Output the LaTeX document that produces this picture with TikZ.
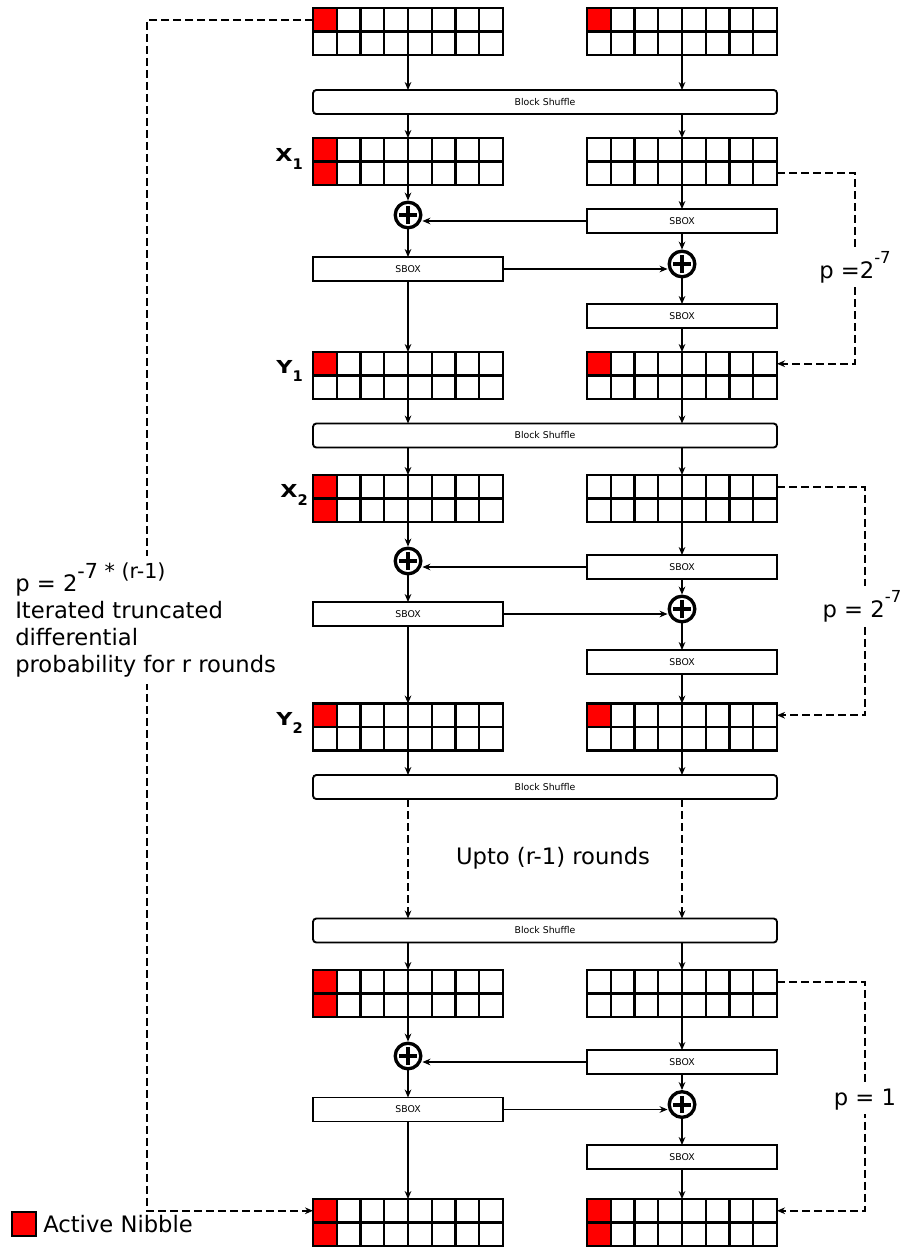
\documentclass[tikz,border=0pt]{standalone}
\usepackage{fontspec}
\usepackage{graphicx}
\setmainfont{DejaVu Sans}
\usetikzlibrary{calc,arrows.meta}

% superscript used in the probability labels
\newcommand{\myexp}[1]{\raisebox{11.25pt}{\fontsize{12.4}{12.4}\selectfont #1}}
% bold round label with a lowered index
\newcommand{\rndlabel}[2]{\scalebox{1.25}[1]{#1}\raisebox{-6pt}{\fontsize{11}{11}\selectfont #2}}

\tikzset{
  blk/.style={rectangle, minimum width=142.5pt, minimum height=35.25pt, inner sep=0pt, outer sep=0pt},
  cell/.style={line width=1.6pt, black},
  nib/.style={fill=red},
  sbox/.style={rectangle, draw, line width=1.4pt, minimum width=142.5pt, minimum height=18pt,
    inner sep=0pt, outer sep=0pt, font=\fontsize{7}{7}\selectfont},
  shuffle/.style={sbox, minimum width=348pt, rounded corners=2.5pt},
  xor/.style={circle, draw, line width=2.5pt, minimum size=19.2pt, inner sep=0pt, outer sep=1.25pt,
    path picture={\draw[line width=3pt]
      ([xshift=-6.5pt]path picture bounding box.center) -- ([xshift=6.5pt]path picture bounding box.center)
      ([yshift=-6.5pt]path picture bounding box.center) -- ([yshift=6.5pt]path picture bounding box.center);}},
  conn/.style={line width=0.8pt, -{Stealth[length=6pt,width=5pt,inset=2pt]}},
  dashline/.style={line width=1.3pt, dash pattern=on 6pt off 3pt, -{Stealth[length=6pt,width=5pt,inset=2pt]}},
  big/.style={font=\fontsize{17}{20.25}\selectfont},
  lbl/.style={font=\fontsize{13.4}{14}\selectfont\bfseries, inner sep=0pt},
}

% a 2x8 nibble block: name, centre x, centre y, active cells (0 none, 1 top-left, 2 left column)
\newcommand{\nblock}[4]{%
  \node[blk] (#1) at (#2,#3) {};
  \ifcase#4\or
    \fill[nib] (#1.north west) rectangle ($(#1.west)+(23.75,0)$);
  \or
    \fill[nib] (#1.north west) rectangle ($(#1.south west)+(23.75,0)$);
  \fi
  \foreach \k in {1,...,7}
    \draw[cell] ($(#1.north west)!\k/8!(#1.north east)$) -- ($(#1.south west)!\k/8!(#1.south east)$);
  \draw[cell] (#1.west) -- (#1.east);
  \draw[cell] (#1.north west) rectangle (#1.south east);
}

% one round: tag, input row y, left xor y, upper right sbox y, left sbox y,
% right xor y, lower right sbox y, output row y, output activity
\newcommand{\fround}[9]{%
  \nblock{x#1l}{408}{#2}{2}
  \nblock{x#1r}{682}{#2}{0}
  \node[xor] (xa#1) at (408,#3) {};
  \node[sbox] (sa#1) at (682,#4) {SBOX};
  \node[sbox] (sb#1) at (408,#5) {SBOX};
  \node[xor] (xb#1) at (682,#6) {};
  \node[sbox] (sc#1) at (682,#7) {SBOX};
  \nblock{y#1l}{408}{#8}{#9}
  \nblock{y#1r}{682}{#8}{#9}
  \draw[conn] (x#1l.south) -- (xa#1.north);
  \draw[conn] (x#1r.south) -- (sa#1.north);
  \draw[conn] (sa#1.west) -- (sa#1.west -| xa#1.east);
  \draw[conn] (xa#1.south) -- (sb#1.north);
  \draw[conn] (sb#1.east) -- (sb#1.east -| xb#1.west);
  \draw[conn] (sa#1.south) -- (xb#1.north);
  \draw[conn] (xb#1.south) -- (sc#1.north);
  \draw[conn] (sc#1.south) -- (y#1r.north);
  \draw[conn] (sb#1.south) -- (y#1l.north);
}

\begin{document}
\begin{tikzpicture}[x=0.75pt,y=-0.75pt]
\path[use as bounding box, fill=white] (0,0) rectangle (907,1249);

% input state
\nblock{tl}{408}{31.5}{1}
\nblock{tr}{682}{31.5}{1}

% block shuffles
\node[shuffle] (bs1) at (545,102) {Block Shuffle};
\node[shuffle] (bs2) at (545,435.5) {Block Shuffle};
\node[shuffle] (bs3) at (545,787) {Block Shuffle};
\node[shuffle] (bs4) at (545,930.5) {Block Shuffle};

% rounds
\fround{1}{161.5}{215}{221}{269}{264}{316}{375.5}{1}
\fround{2}{498.5}{561}{567}{614}{609}{662}{727}{1}
\fround{3}{993.5}{1056}{1062}{1109.5}{1104.5}{1157}{1222.5}{2}

% links through the shuffles
\draw[conn] (tl.south) -- (bs1.north -| tl.south);
\draw[conn] (tr.south) -- (bs1.north -| tr.south);
\draw[conn] (bs1.south -| x1l.north) -- (x1l.north);
\draw[conn] (bs1.south -| x1r.north) -- (x1r.north);
\draw[conn] (y1l.south) -- (bs2.north -| y1l.south);
\draw[conn] (y1r.south) -- (bs2.north -| y1r.south);
\draw[conn] (bs2.south -| x2l.north) -- (x2l.north);
\draw[conn] (bs2.south -| x2r.north) -- (x2r.north);
\draw[conn] (y2l.south) -- (bs3.north -| y2l.south);
\draw[conn] (y2r.south) -- (bs3.north -| y2r.south);
\draw[dashline] (bs3.south -| y2l.south) -- (bs4.north -| y2l.south);
\draw[dashline] (bs3.south -| y2r.south) -- (bs4.north -| y2r.south);
\draw[conn] (bs4.south -| x3l.north) -- (x3l.north);
\draw[conn] (bs4.south -| x3r.north) -- (x3r.north);

\node[big] (upto) at (553,858) {Upto (r-1) rounds};

% round labels
\node[lbl, anchor=base east] (lx1) at (303,161) {\rndlabel{X}{1}};
\node[lbl, anchor=base east] (ly1) at (303,373) {\rndlabel{Y}{1}};
\node[lbl, anchor=base east] (lx2) at (308,497) {\rndlabel{X}{2}};
\node[lbl, anchor=base east] (ly2) at (303,725) {\rndlabel{Y}{2}};

% per-round truncated differential paths
\draw[dashline] ($(x1r.east)+(0,11.75)$) -- ++(78,0) |- ($(y1r.east)+(0,-11.75)$);
\draw[dashline] ($(x2r.east)+(0,-11.75)$) -- ++(88,0) |- ($(y2r.east)+(0,-11.75)$);
\draw[dashline] ($(x3r.east)+(0,-11.75)$) -- ++(88,0) |- ($(y3r.east)+(0,-11.75)$);
\node[big, fill=white, inner sep=3pt, anchor=base] (p1) at (855,278) {p =2\myexp{-7}};
\node[big, fill=white, inner sep=3pt, anchor=base] (p2) at (862,617) {p = 2\myexp{-7}};
\node[big, fill=white, inner sep=3pt, anchor=base] (p3) at (865,1105) {p = 1};

% overall path over r rounds
\draw[dashline] ($(tl.west)+(0,-11.75)$) -- ++(-166,0) |- ($(y3l.west)+(0,-11.75)$);
\node[big, fill=white, align=left, inner xsep=0pt, inner ysep=5.25pt, anchor=north west] (pall) at (15,556)
  {p = 2\raisebox{9.4pt}{\fontsize{15.5}{15.5}\selectfont -7 * (r-1)}\\
   Iterated truncated\\
   differential\\
   probability for r rounds};

% legend
\node[draw, fill=red, line width=1.2pt, minimum size=18pt, inner sep=0pt] (leg) at (24,1224) {};
\node[big, anchor=base west, inner sep=0pt] (legt) at (43,1232) {Active Nibble};
\end{tikzpicture}
\end{document}
